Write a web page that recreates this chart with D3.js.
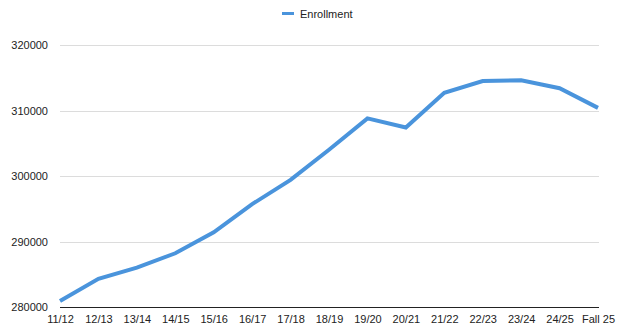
<!DOCTYPE html>
<html>
<head>
<meta charset="utf-8">
<script src="https://cdn.jsdelivr.net/npm/d3@7"></script>
<style>
  html, body { margin: 0; padding: 0; background: #fff; }
  svg { display: block; font-family: "Liberation Sans", Arial, Helvetica, sans-serif; }
</style>
</head>
<body>
<svg id="chart" width="620" height="335"></svg>
<script>
const categories = ["11/12","12/13","13/14","14/15","15/16","16/17","17/18","18/19","19/20","20/21","21/22","22/23","23/24","24/25","Fall 25"];
const enrollment = [280900, 284300, 286000, 288200, 291400, 295700, 299400, 304000, 308800, 307400, 312700, 314500, 314600, 313400, 310400];
const yTicks = [280000, 290000, 300000, 310000, 320000];
const seriesName = "Enrollment";

const W = 620, H = 335;
const margin = { left: 60, right: 22, top: 45, bottom: 28 };
const svg = d3.select("#chart");

const x = d3.scalePoint().domain(categories).range([margin.left, W - margin.right]);
const y = d3.scaleLinear().domain([280000, 320000]).range([H - margin.bottom, margin.top]);

// gridlines
svg.append("g")
  .selectAll("line")
  .data(yTicks.slice(1))
  .join("line")
  .attr("x1", margin.left).attr("x2", W - margin.right + 1)
  .attr("y1", d => Math.round(y(d)) + 0.5).attr("y2", d => Math.round(y(d)) + 0.5)
  .attr("stroke", "#dcdcdc").attr("stroke-width", 1);

// y axis labels
const yAxis = d3.axisLeft(y).tickValues(yTicks).tickSize(0).tickPadding(12).tickFormat(d3.format("d"));
const gy = svg.append("g").attr("transform", `translate(${margin.left},0)`).call(yAxis);
gy.select(".domain").remove();
gy.selectAll("text").attr("font-size", 11).attr("fill", "#222")
  .attr("font-family", "\"Liberation Sans\", Arial, sans-serif");

// x axis
const xAxis = d3.axisBottom(x).tickSize(0).tickPadding(8);
const gx = svg.append("g").attr("transform", `translate(0,${Math.round(y(280000)) + 0.5})`).call(xAxis);
gx.select(".domain").attr("stroke", "#222").attr("stroke-width", 1.2)
  .attr("d", `M${margin.left},0H${W - margin.right + 1}`);
gx.selectAll("text").attr("font-size", 11).attr("fill", "#222")
  .attr("font-family", "\"Liberation Sans\", Arial, sans-serif");

// line
const line = d3.line().x((d, i) => x(categories[i])).y(d => y(d));
svg.append("path")
  .datum(enrollment)
  .attr("d", line)
  .attr("fill", "none")
  .attr("stroke", "#4a94dc")
  .attr("stroke-width", 4)
  .attr("stroke-linejoin", "miter")
  .attr("stroke-linecap", "butt");

// legend
const lg = svg.append("g");
lg.append("line").attr("x1", 282).attr("x2", 294).attr("y1", 13.5).attr("y2", 13.5)
  .attr("stroke", "#4a94dc").attr("stroke-width", 3);
lg.append("text").attr("x", 300).attr("y", 17.5).attr("font-size", 11).attr("fill", "#222")
  .text(seriesName);
</script>
</body>
</html>
